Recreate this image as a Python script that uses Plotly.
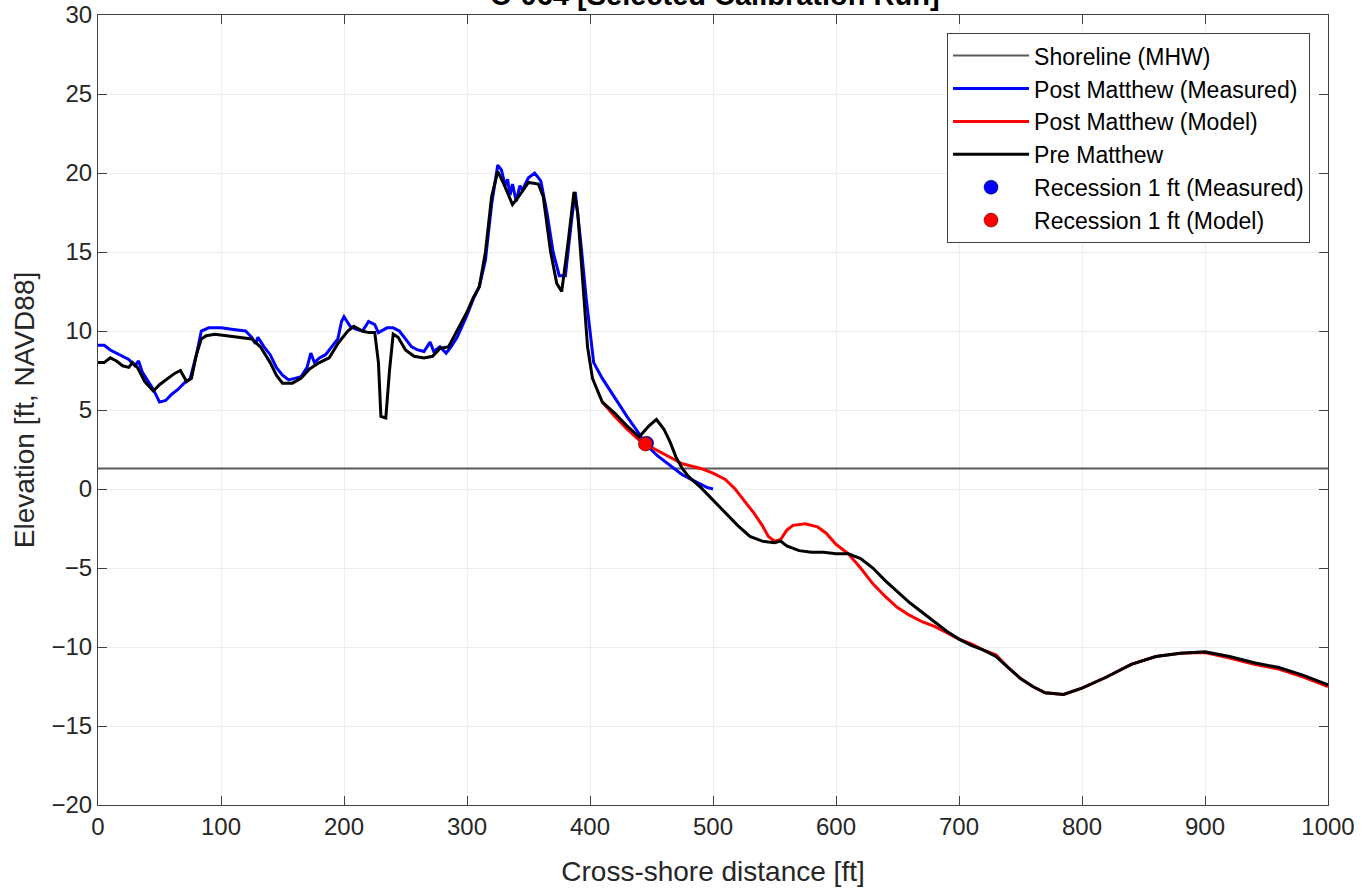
import plotly.graph_objects as go

# ---------------- data ----------------
mhw_level = 1.3
x_range = [0, 1000]

pre_x = [0, 5, 10, 15, 20, 25, 28, 32, 38, 45, 50, 55, 62, 67, 70, 72, 76, 80, 84, 88, 95, 105, 115, 125, 132,
         140, 145, 150, 158, 165, 172, 180, 188, 195, 203, 208, 215, 220, 225, 228, 230, 234, 237, 240, 244,
         250, 257, 265, 272, 278, 285, 292, 300, 305, 310, 315, 320, 325, 330, 337, 342, 350, 358, 362, 368,
         373, 377, 382, 387, 390, 395, 398, 402, 410, 420, 430, 440, 448, 454, 460, 465, 470, 475, 480, 490,
         500, 510, 520, 530, 540, 550, 555, 560, 570, 580, 590, 600, 610, 620, 630, 640, 650, 660, 670, 680,
         690, 700, 710, 720, 730, 740, 750, 760, 770, 785, 800, 820, 840, 860, 880, 900, 920, 940, 960, 980, 1000]
pre_y = [8.0, 8.0, 8.3, 8.1, 7.8, 7.7, 8.0, 7.7, 6.8, 6.2, 6.6, 6.9, 7.3, 7.5, 7.1, 6.8, 7.0, 8.5, 9.5, 9.7, 9.8,
         9.7, 9.6, 9.5, 9.0, 8.0, 7.2, 6.7, 6.7, 7.0, 7.6, 8.0, 8.3, 9.2, 10.0, 10.3, 10.0, 9.9, 9.9, 8.0, 4.6,
         4.5, 7.5, 9.8, 9.6, 8.8, 8.4, 8.3, 8.4, 8.9, 9.0, 10.0, 11.2, 12.1, 12.8, 15.0, 18.5, 20.1, 19.3, 18.0,
         18.5, 19.4, 19.3, 18.5, 15.0, 13.0, 12.5, 15.5, 18.8, 17.5, 12.0, 9.0, 7.0, 5.5, 4.8, 4.0, 3.3, 4.0,
         4.4, 3.8, 3.0, 2.0, 1.3, 0.8, 0.1, -0.7, -1.5, -2.3, -3.0, -3.3, -3.4, -3.3, -3.6, -3.9, -4.0, -4.0,
         -4.1, -4.1, -4.4, -5.0, -5.8, -6.5, -7.2, -7.8, -8.4, -9.0, -9.5, -9.9, -10.2, -10.6, -11.3, -12.0,
         -12.5, -12.9, -13.0, -12.6, -11.9, -11.1, -10.6, -10.4, -10.3, -10.6, -11.0, -11.3, -11.8, -12.4]

meas_x = [0, 5, 10, 20, 25, 30, 33, 36, 40, 45, 50, 55, 60, 65, 70, 75, 80, 84, 90, 100, 110, 120, 125, 128,
          130, 135, 140, 145, 150, 155, 160, 165, 170, 173, 176, 180, 185, 190, 195, 198, 200, 205, 210, 215,
          220, 225, 228, 235, 240, 245, 250, 255, 260, 265, 270, 273, 278, 283, 287, 292, 300, 305, 310, 315,
          320, 325, 328, 331, 333, 335, 337, 340, 343, 345, 348, 350, 355, 360, 365, 370, 375, 380, 385, 388,
          392, 397, 403, 410, 420, 430, 440, 445, 455, 465, 475, 485, 495, 500]
meas_y = [9.1, 9.1, 8.8, 8.4, 8.2, 7.8, 8.1, 7.4, 6.9, 6.3, 5.5, 5.6, 6.0, 6.3, 6.7, 7.0, 8.5, 10.0, 10.2,
          10.2, 10.1, 10.0, 9.6, 9.2, 9.6, 9.0, 8.5, 7.7, 7.2, 6.9, 7.0, 7.1, 7.7, 8.6, 8.0, 8.3, 8.5, 9.0,
          9.5, 10.6, 10.9, 10.3, 10.1, 10.0, 10.6, 10.4, 9.9, 10.2, 10.2, 10.0, 9.5, 9.0, 8.8, 8.7, 9.3, 8.7,
          9.0, 8.6, 9.0, 9.6, 11.0, 12.0, 12.8, 14.5, 18.0, 20.5, 20.2, 19.2, 19.6, 18.6, 19.3, 18.2, 19.2,
          18.9, 19.4, 19.7, 20.0, 19.5, 17.5, 15.0, 13.5, 13.5, 17.0, 18.8, 16.0, 12.0, 8.0, 7.0, 5.8, 4.6,
          3.5, 2.85, 2.1, 1.5, 0.9, 0.5, 0.1, 0.0]

model_x = [410, 420, 430, 440, 445, 460, 475, 490, 500, 510, 518, 525, 533, 540, 545, 550, 555, 560, 565,
           575, 585, 592, 600, 610, 620, 630, 640, 650, 660, 670, 680, 690, 700, 710, 720, 730, 740, 750, 760,
           770, 785, 800, 820, 840, 860, 880, 900, 920, 940, 960, 980, 1000]
model_y = [5.5, 4.6, 3.8, 3.1, 2.85, 2.2, 1.6, 1.3, 1.0, 0.6, 0.0, -0.7, -1.5, -2.3, -3.0, -3.3, -3.2, -2.6,
           -2.3, -2.2, -2.4, -2.8, -3.5, -4.1, -5.0, -6.0, -6.8, -7.5, -8.0, -8.4, -8.7, -9.1, -9.5, -9.8,
           -10.2, -10.5, -11.3, -12.0, -12.5, -12.9, -13.0, -12.6, -11.9, -11.1, -10.6, -10.4, -10.35, -10.7,
           -11.1, -11.4, -11.9, -12.5]

rec_meas_x = [446]
rec_meas_y = [2.9]
rec_model_x = [445]
rec_model_y = [2.85]

title_text = "C-064 [Selected Calibration Run]"
x_ticks = [0, 100, 200, 300, 400, 500, 600, 700, 800, 900, 1000]
y_ticks = [-20, -15, -10, -5, 0, 5, 10, 15, 20, 25, 30]

# ---------------- figure ----------------
FONT = "Arial, Liberation Sans, Helvetica, sans-serif"

fig = go.Figure()
fig.add_trace(go.Scatter(x=x_range, y=[mhw_level, mhw_level], mode="lines", name="Shoreline (MHW)",
                         line=dict(color="#5a5a5a", width=2)))
fig.add_trace(go.Scatter(x=meas_x, y=meas_y, mode="lines", name="Post Matthew (Measured)",
                         line=dict(color="#0000ff", width=3)))
fig.add_trace(go.Scatter(x=model_x, y=model_y, mode="lines", name="Post Matthew (Model)",
                         line=dict(color="#ff0000", width=3)))
fig.add_trace(go.Scatter(x=pre_x, y=pre_y, mode="lines", name="Pre Matthew",
                         line=dict(color="#000000", width=3)))
fig.add_trace(go.Scatter(x=rec_meas_x, y=rec_meas_y, mode="markers", name="Recession 1 ft (Measured)",
                         marker=dict(color="#0000ff", size=14, line=dict(color="#000033", width=0.5))))
fig.add_trace(go.Scatter(x=rec_model_x, y=rec_model_y, mode="markers", name="Recession 1 ft (Model)",
                         marker=dict(color="#ff0000", size=14, line=dict(color="#330000", width=0.5))))

axis_common = dict(showline=True, linecolor="#404040", linewidth=1, mirror="ticks",
                   ticks="inside", ticklen=9, tickcolor="#404040", automargin=False,
                   ticklabeloverflow="allow",
                   showgrid=True, gridcolor="#ededed", gridwidth=1, zeroline=False,
                   tickfont=dict(family=FONT, size=24, color="#262626"))

fig.update_layout(
    width=1367, height=889,
    paper_bgcolor="white", plot_bgcolor="white",
    margin=dict(l=98, r=39, t=15, b=84, autoexpand=False),
    xaxis=dict(range=[0, 1000], tickvals=x_ticks,
               title=dict(text="Cross-shore distance [ft]", standoff=22,
                          font=dict(family=FONT, size=28, color="#262626")),
               **axis_common),
    yaxis=dict(range=[-20, 30], tickvals=y_ticks,
               title=dict(text="Elevation [ft, NAVD88]", standoff=8,
                          font=dict(family=FONT, size=28, color="#262626")),
               **axis_common),
    legend=dict(x=0.9854, y=0.977, xanchor="right", yanchor="top",
                bgcolor="white", bordercolor="#404040", borderwidth=1,
                font=dict(family=FONT, size=23, color="#000000"),
                itemwidth=76, tracegroupgap=0),
    showlegend=True,
    annotations=[dict(text="<b>" + title_text + "</b>", xref="paper", yref="paper",
                      x=0.502, y=1.002, xanchor="center", yanchor="bottom", showarrow=False,
                      font=dict(family=FONT, size=29, color="#000000"))],
)

fig.write_html("out.html", config={"displayModeBar": False},
               post_script="document.body.style.margin='0';")
